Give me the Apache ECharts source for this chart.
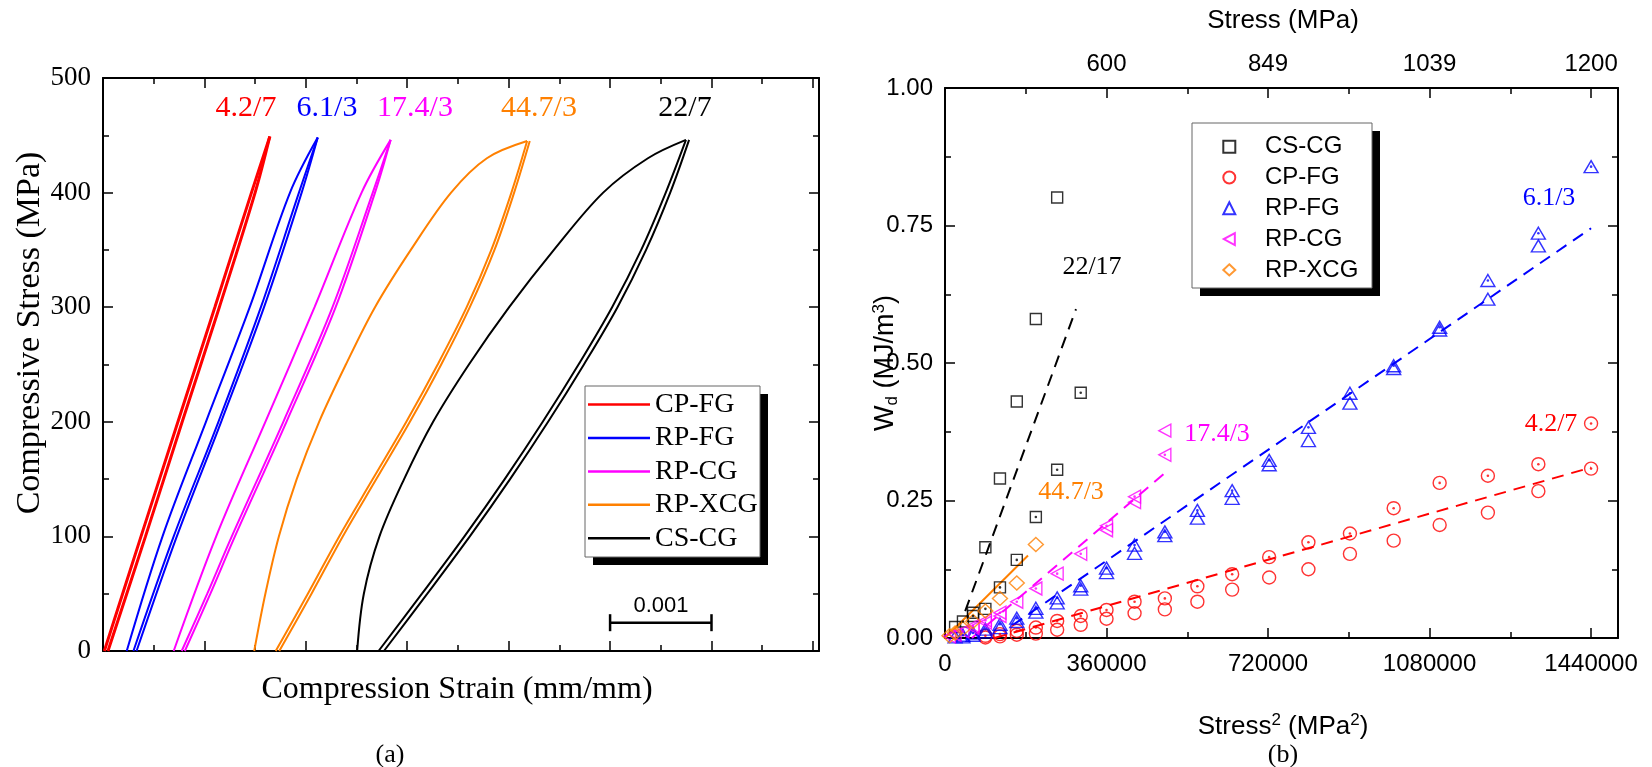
<!DOCTYPE html>
<html>
<head>
<meta charset="utf-8">
<script src="https://cdn.jsdelivr.net/npm/echarts@6.0.0/dist/echarts.min.js"></script>
<style>
html,body{margin:0;padding:0;background:#ffffff;}
#chart{width:1652px;height:767px;}
</style>
</head>
<body>
<div id="chart"></div>
<script>
// ================= Panel (a): loops, [strain (mm/mm), stress (MPa)] =================
const cpfgLoop1 = [[0.000013,0],[0.000375,100],[0.000739,200],[0.001103,300],[0.001464,400],[0.001645,449]];
const cpfgLoop2 = [[0.000049,0],[0.000419,100],[0.000781,200],[0.001147,300],[0.001500,400],[0.001645,449]];

const rpfgLoop1 = [[0.000234,0],[0.000587,100],[0.001015,200],[0.001447,300],[0.001844,400],[0.002117,448]];
const rpfgLoop2 = [[0.000300,0],[0.000697,100],[0.001138,200],[0.001557,300],[0.001932,400],[0.002117,448]];
const rpfgLoop3 = [[0.000331,0],[0.000728,100],[0.001165,200],[0.001588,300],[0.001959,400],[0.002117,448]];

const rpcgLoop1 = [[0.000697,0],[0.001116,100],[0.001601,200],[0.002086,300],[0.002550,400],[0.002836,446]];
const rpcgLoop2 = [[0.000776,0],[0.001028,50],[0.001270,100],[0.001778,200],[0.002263,300],[0.002660,400],[0.002836,446]];
const rpcgLoop3 = [[0.000807,0],[0.001059,50],[0.001301,100],[0.001809,200],[0.002294,300],[0.002682,400],[0.002836,446]];

const rpxcgLoop1 = [[0.001491,0],[0.001601,50],[0.001734,100],[0.001910,150],[0.002131,200],[0.002395,250],[0.002682,300],[0.003035,350],[0.003432,400],[0.003785,430],[0.004182,445]];
const rpxcgLoop2 = [[0.001703,0],[0.002020,50],[0.002329,100],[0.002660,150],[0.002991,200],[0.003300,250],[0.003586,300],[0.003829,350],[0.004027,400],[0.004182,445]];
const rpxcgLoop3 = [[0.001738,0],[0.002056,50],[0.002364,100],[0.002695,150],[0.003026,200],[0.003335,250],[0.003617,300],[0.003860,350],[0.004054,400],[0.004208,445]];

const cscgLoop1 = [[0.002506,0],[0.002572,50],[0.002726,100],[0.002969,150],[0.003255,200],[0.003608,250],[0.004005,300],[0.004446,350],[0.004932,400],[0.005373,430],[0.005748,446]];
const cscgLoop2 = [[0.002717,0],[0.003145,50],[0.003564,100],[0.003961,150],[0.004336,200],[0.004689,250],[0.005020,300],[0.005307,350],[0.005549,400],[0.005748,446]];
const cscgLoop3 = [[0.002770,0],[0.003198,50],[0.003617,100],[0.004014,150],[0.004389,200],[0.004742,250],[0.005073,300],[0.005355,350],[0.005593,400],[0.005779,446]];

const scaleBar = [[0.005,24.7],[0.006,24.7]];
const scaleBarText = '0.001';
const loopNames = ['CP-FG','RP-FG','RP-CG','RP-XCG','CS-CG'];
const loopTags = ['4.2/7','6.1/3','17.4/3','44.7/3','22/7'];

// ================= Panel (b): [stress^2 (MPa^2), Wd (MJ/m^3)] =================
const cscgDot   = [[40000,0.030],[62500,0.040],[90000,0.053],[122500,0.092],[160000,0.142],[202500,0.220],[250000,0.306],[302500,0.446]];
const cscgPlain = [[22500,0.020],[62500,0.046],[90000,0.165],[122500,0.290],[160000,0.430],[202500,0.580],[250000,0.801]];

const cpfgDot   = [[90000,0.004],[122500,0.007],[160000,0.013],[202500,0.019],[250000,0.031],[302500,0.040],[360000,0.051],[422500,0.066],[490000,0.072],[562500,0.094],[640000,0.116],[722500,0.147],[810000,0.174],[902500,0.190],[1000000,0.236],[1102500,0.282],[1210000,0.295],[1322500,0.316],[1440000,0.390],[1440000,0.308]];
const cpfgPlain = [[90000,0.001],[122500,0.003],[160000,0.006],[202500,0.008],[250000,0.015],[302500,0.024],[360000,0.035],[422500,0.045],[490000,0.052],[562500,0.066],[640000,0.088],[722500,0.110],[810000,0.125],[902500,0.153],[1000000,0.177],[1102500,0.2055],[1210000,0.228],[1322500,0.267]];

const rpfgDot   = [[40000,0.005],[62500,0.009],[90000,0.016],[122500,0.025],[160000,0.036],[202500,0.054],[250000,0.073],[302500,0.095],[360000,0.127],[422500,0.169],[490000,0.193],[562500,0.232],[640000,0.268],[722500,0.323],[810000,0.383],[902500,0.445],[1000000,0.495],[1102500,0.565],[1210000,0.650],[1322500,0.736],[1440000,0.857]];
const rpfgPlain = [[22500,0.002],[40000,0.002],[62500,0.005],[90000,0.011],[122500,0.019],[160000,0.030],[202500,0.047],[250000,0.064],[302500,0.089],[360000,0.119],[422500,0.154],[490000,0.186],[562500,0.218],[640000,0.254],[722500,0.315],[810000,0.359],[902500,0.427],[1000000,0.490],[1102500,0.560],[1210000,0.616],[1322500,0.713]];

const rpcgDot   = [[40000,0.012],[62500,0.022],[90000,0.032],[122500,0.046],[160000,0.066],[202500,0.090],[250000,0.117],[302500,0.153],[360000,0.204],[422500,0.257],[490000,0.333]];
const rpcgPlain = [[10000,0.003],[22500,0.006],[62500,0.018],[90000,0.028],[122500,0.040],[360000,0.196],[422500,0.247],[490000,0.377]];

const rpxcgPts  = [[10000,0.004],[22500,0.009],[40000,0.017],[62500,0.030],[90000,0.049],[122500,0.072],[160000,0.100],[202500,0.170]];

const fitCSCG  = [[45000,0.049],[292000,0.598]];
const fitRPCG  = [[60000,0.000],[490000,0.300]];
const fitRPFG  = [[150000,0.023],[1440000,0.745]];
const fitCPFG  = [[110000,0.000],[1440000,0.310]];
const fitRPXCG = [[0,0.000],[185000,0.150]];

const bottomTickLabels = ['0','360000','720000','1080000','1440000'];
const topTickValues = [360000,720000,1080000,1440000];
const topTickLabels = ['600','849','1039','1200'];
const wdTickLabels = ['0.00','0.25','0.50','0.75','1.00'];
const stressTickLabels = ['0','100','200','300','400','500'];
const fitTags = ['22/17','44.7/3','17.4/3','6.1/3','4.2/7'];
const rightNames = ['CS-CG ','CP-FG ','RP-FG ','RP-CG ','RP-XCG '];

// ================= styles =================
const RED='#ff0000', BLUE='#0000ff', MAG='#ff00ff', ORG='#ff8000', BLK='#000000';
const SERIF='Liberation Serif', SANS='Liberation Sans';
const LEFT_TRI = 'path://M12,0 L0,6.5 L12,13 Z';
const DIAMOND = 'path://M7.5,0 L15,7 L7.5,14 L0,7 Z';

function loopSeries(name, data, color, width){
  return {type:'line', name:name, xAxisIndex:0, yAxisIndex:0, data:data, smooth:0.35,
    symbol:'none', showSymbol:false, silent:true, z:2,
    lineStyle:{color:color, width:width}, itemStyle:{color:color}, emphasis:{disabled:true}};
}
function markSeries(name, data, symbol, size, color){
  return {type:'scatter', name:name, xAxisIndex:4, yAxisIndex:2, data:data, symbol:symbol, symbolSize:size,
    silent:true, z:4,
    itemStyle:{color:'rgba(0,0,0,0)', borderColor:color, borderWidth:1.4}, emphasis:{disabled:true}};
}
function dotSeries(name, data, color){
  return {type:'scatter', name:name, xAxisIndex:4, yAxisIndex:2, data:data, symbol:'circle', symbolSize:2.6,
    silent:true, z:5, itemStyle:{color:color}, emphasis:{disabled:true}};
}
function fitSeries(name, data, color, dashed){
  return {type:'line', name:name, xAxisIndex:4, yAxisIndex:2, data:data, symbol:'none', showSymbol:false,
    silent:true, z:3, lineStyle:{color:color, width:2, type: dashed ? [12,8] : 'solid'}, emphasis:{disabled:true}};
}

const tickStyle = {color:'#000', width:1.5};
function xAxisDef(grid, pos, max, interval, major, labelOpt){
  return {gridIndex:grid, type:'value', position:pos, min:0, max:max, interval:interval,
    axisLine:{show:major, onZero:false, lineStyle:{color:'#000', width:2}},
    axisTick:{show:true, inside:true, length: major?10:6, lineStyle:tickStyle},
    axisLabel: labelOpt || {show:false},
    splitLine:{show:false}, minorTick:{show:false}, minorSplitLine:{show:false}, silent:true};
}
function yAxisDef(grid, pos, max, interval, labelOpt){
  return {gridIndex:grid, type:'value', position:pos, min:0, max:max, interval:interval,
    axisLine:{show:true, onZero:false, lineStyle:{color:'#000', width:2}},
    axisTick:{show:true, inside:true, length:10, lineStyle:tickStyle},
    minorTick:{show:true, splitNumber:2, length:6, lineStyle:tickStyle},
    axisLabel: labelOpt || {show:false},
    splitLine:{show:false}, minorSplitLine:{show:false}, silent:true};
}

const series = [
  loopSeries('CP-FG', cpfgLoop1, RED, 3), loopSeries('CP-FG', cpfgLoop2, RED, 3),
  loopSeries('RP-FG', rpfgLoop1, BLUE, 2), loopSeries('RP-FG', rpfgLoop2, BLUE, 2), loopSeries('RP-FG', rpfgLoop3, BLUE, 2),
  loopSeries('RP-CG', rpcgLoop1, MAG, 2), loopSeries('RP-CG', rpcgLoop2, MAG, 2), loopSeries('RP-CG', rpcgLoop3, MAG, 2),
  loopSeries('RP-XCG', rpxcgLoop1, ORG, 2), loopSeries('RP-XCG', rpxcgLoop2, ORG, 2), loopSeries('RP-XCG', rpxcgLoop3, ORG, 2),
  loopSeries('CS-CG', cscgLoop1, BLK, 2), loopSeries('CS-CG', cscgLoop2, BLK, 2), loopSeries('CS-CG', cscgLoop3, BLK, 2),
  {type:'line', name:'_bar', xAxisIndex:0, yAxisIndex:0, data:scaleBar, symbol:'rect', symbolSize:[2.5,17], showSymbol:true,
   silent:true, z:3, lineStyle:{color:'#000', width:2.5}, itemStyle:{color:'#000'}, emphasis:{disabled:true}},

  fitSeries('_f1', fitCSCG, BLK, true), fitSeries('_f2', fitRPCG, MAG, true), fitSeries('_f3', fitRPFG, BLUE, true),
  fitSeries('_f4', fitCPFG, RED, true), fitSeries('_f5', fitRPXCG, ORG, false),
  markSeries(rightNames[0], cscgPlain, 'rect', 11, BLK), markSeries(rightNames[0], cscgDot, 'rect', 11, BLK),
  markSeries(rightNames[1], cpfgPlain, 'circle', 13, RED), markSeries(rightNames[1], cpfgDot, 'circle', 13, RED),
  markSeries(rightNames[2], rpfgPlain, 'triangle', [14,12], BLUE), markSeries(rightNames[2], rpfgDot, 'triangle', [14,12], BLUE),
  markSeries(rightNames[3], rpcgPlain, LEFT_TRI, [12,13], MAG), markSeries(rightNames[3], rpcgDot, LEFT_TRI, [12,13], MAG),
  markSeries(rightNames[4], rpxcgPts, DIAMOND, [15,14], ORG),
  dotSeries('_d1', cscgDot, BLK), dotSeries('_d2', cpfgDot, RED), dotSeries('_d3', rpfgDot, BLUE), dotSeries('_d4', rpcgDot, MAG)
];

function txt(x, y, text, color, font, extra){
  return Object.assign({type:'text', x:x, y:y, z:6, silent:true,
    style:{text:text, fill:color, font:font, align:'center', verticalAlign:'middle'}}, extra||{});
}
const tagColors = [RED, BLUE, MAG, ORG, BLK];
const tagX = [246, 327, 415, 539, 685];
const fitTagPos = [[1092,267,BLK],[1071,492,ORG],[1217,434,MAG],[1549,198,BLUE],[1551,424,RED]];

const graphics = [
  {type:'rect', z:3, silent:true, shape:{x:593, y:394, width:175, height:171}, style:{fill:'#000'}},
  {type:'rect', z:3.5, silent:true, shape:{x:585, y:386, width:175, height:171}, style:{fill:'#fff', stroke:'#666', lineWidth:1}},
  {type:'rect', z:3, silent:true, shape:{x:1200, y:131, width:180, height:165}, style:{fill:'#000'}},
  {type:'rect', z:3.5, silent:true, shape:{x:1192, y:123, width:180, height:165}, style:{fill:'#fff', stroke:'#666', lineWidth:1}},
  txt(661, 606, scaleBarText, '#000', '22px "Liberation Sans"'),
  txt(457, 690, 'Compression Strain (mm/mm)', '#000', '32px "Liberation Serif"'),
  txt(30, 333, 'Compressive Stress (MPa)', '#000', '34px "Liberation Serif"', {rotation:Math.PI/2}),
  txt(390, 755, '(a)', '#000', '26px "Liberation Serif"'),
  txt(1283, 755, '(b)', '#000', '26px "Liberation Serif"'),
  txt(1283, 21, 'Stress (MPa)', '#000', '26px "Liberation Sans"'),
  {type:'text', x:1283, y:727, z:6, silent:true, style:{text:'{a|Stress}{c|2}{a| (MPa}{c|2}{a|)}', align:'center', verticalAlign:'middle',
    rich:{a:{fontFamily:SANS, fontSize:26, lineHeight:30, fill:'#000'}, c:{fontFamily:SANS, fontSize:17, lineHeight:17, verticalAlign:'top', fill:'#000'}}}},
  {type:'text', x:886, y:363, rotation:Math.PI/2, z:6, silent:true, style:{text:'{a|W}{b|d}{a| (MJ/m}{c|3}{a|)}', align:'center', verticalAlign:'middle',
    rich:{a:{fontFamily:SANS, fontSize:27, lineHeight:30, fill:'#000'}, b:{fontFamily:SANS, fontSize:17, lineHeight:17, verticalAlign:'bottom', fill:'#000'},
          c:{fontFamily:SANS, fontSize:17, lineHeight:17, verticalAlign:'top', fill:'#000'}}}}
];
loopTags.forEach((t,i)=>graphics.push(txt(tagX[i], 108, t, tagColors[i], '30px "Liberation Serif"')));
fitTags.forEach((t,i)=>graphics.push(txt(fitTagPos[i][0], fitTagPos[i][1], t, fitTagPos[i][2], '26px "Liberation Serif"')));

const option = {
  animation:false,
  backgroundColor:'#ffffff',
  grid:[
    {left:103, top:78, width:716, height:573, outerBoundsMode:'none', containLabel:false},
    {left:945, top:88, width:673, height:550, outerBoundsMode:'none', containLabel:false}
  ],
  xAxis:[
    xAxisDef(0,'bottom',0.00706,0.001,true),
    xAxisDef(0,'bottom',0.00706,0.0005,false),
    xAxisDef(0,'top',0.00706,0.001,true),
    xAxisDef(0,'top',0.00706,0.0005,false),
    xAxisDef(1,'bottom',1500000,360000,true,{show:true, fontFamily:SANS, fontSize:24, color:'#000', margin:14, showMaxLabel:false, showMinLabel:true,
      formatter:(v)=>{const i = Math.round(v/360000); return (Math.abs(v - i*360000) < 1 && i < bottomTickLabels.length) ? bottomTickLabels[i] : '';}}),
    xAxisDef(1,'bottom',1500000,180000,false),
    xAxisDef(1,'top',1500000,360000,true,{show:true, fontFamily:SANS, fontSize:24, color:'#000', margin:12, showMaxLabel:false, showMinLabel:false,
      formatter:(v)=>{const i = topTickValues.indexOf(Math.round(v)); return i>=0 ? topTickLabels[i] : '';}}),
    xAxisDef(1,'top',1500000,180000,false)
  ],
  yAxis:[
    yAxisDef(0,'left',500,100,{show:true, fontFamily:SERIF, fontSize:27, color:'#000', margin:12,
      formatter:(v)=>stressTickLabels[Math.round(v/100)]}),
    yAxisDef(0,'right',500,100),
    yAxisDef(1,'left',1,0.25,{show:true, fontFamily:SANS, fontSize:24, color:'#000', margin:12,
      formatter:(v)=>wdTickLabels[Math.round(v/0.25)]}),
    yAxisDef(1,'right',1,0.25)
  ],
  legend:[
    {left:588, top:390.6, orient:'vertical', padding:0, itemGap:5.4, itemWidth:62, itemHeight:2.5, z:8,
     selectedMode:false, icon:'rect', data:loopNames,
     textStyle:{fontFamily:SERIF, fontSize:28, lineHeight:28, color:'#000'}},
    {left:1222.3, top:133.7, orient:'vertical', padding:0, itemGap:4.8, itemWidth:12, itemHeight:12, z:8,
     selectedMode:false, data:rightNames, formatter:(n)=>n.trim(),
     textStyle:{fontFamily:SANS, fontSize:24, lineHeight:26, color:'#000', padding:[0,0,0,24.7]}}
  ],
  graphic:{elements:graphics},
  series:series
};

const chart = echarts.init(document.getElementById('chart'), null, {renderer:'canvas'});
chart.setOption(option);
</script>
</body>
</html>
